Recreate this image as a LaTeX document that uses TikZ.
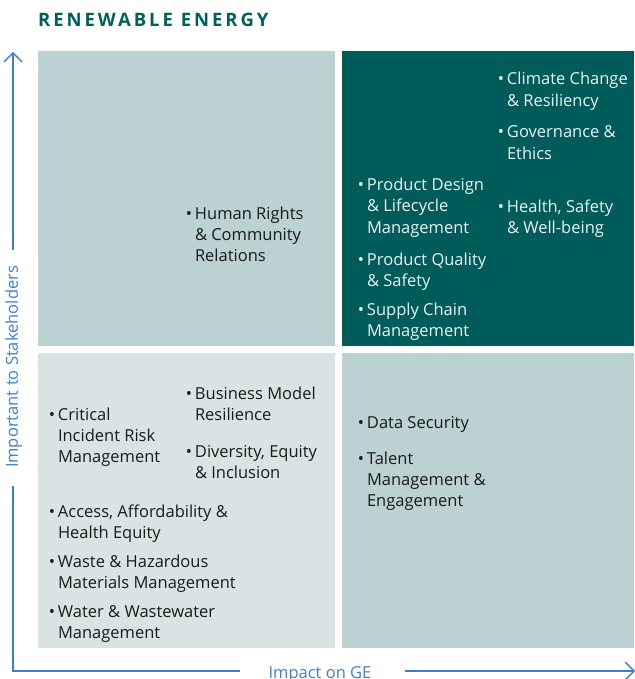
\documentclass[tikz,border=0pt]{standalone}
\usepackage{fontspec}
\setmainfont{Open Sans}
\usetikzlibrary{arrows.meta}
\definecolor{quadmid}{HTML}{BBD1D2}
\definecolor{quadpale}{HTML}{D8E4E4}
\definecolor{quaddark}{HTML}{005C5A}
\definecolor{axisblue}{HTML}{3F7FCF}
\definecolor{titleteal}{HTML}{00605C}
\definecolor{textdark}{HTML}{1A1A1A}
\definecolor{textlight}{HTML}{EAF2F2}
\newcommand{\Item}[1]{\llap{\textbullet\hspace{3pt}}\begin{tabular}[t]{@{}l@{}}#1\end{tabular}}
\tikzset{
  itemtext/.style={anchor=base west, inner sep=0, outer sep=0, text=textdark,
    font=\fontsize{16.5}{21.3}\selectfont},
  itemlight/.style={itemtext, text=textlight},
  axisline/.style={draw=axisblue, line width=1.4pt},
  axislabel/.style={text=axisblue, inner sep=0, font=\fontsize{16.5}{19}\selectfont},
  axistip/.style={-{Straight Barb[length=9pt,width=18pt,line width=1.4pt]}}
}
\begin{document}
\begin{tikzpicture}[x=1pt,y=-1pt]
\useasboundingbox (0,0) rectangle (634,679);
% quadrants
\fill[quadmid]  (38,51)  rectangle (335,346);
\fill[quaddark] (342,51) rectangle (634,346);
\fill[quadpale] (38,353) rectangle (335,648);
\fill[quadmid]  (342,353) rectangle (634,648);
% title
\node[anchor=base west, inner sep=0, text=titleteal,
  font=\fontsize{18.5}{22}\selectfont\bfseries\addfontfeatures{LetterSpace=16}] (title) at (38,26.7) {RENEWABLE ENERGY};
% top-left
\node[itemtext] (hr) at (195,219) {\Item{Human Rights\\ \& Community\\ Relations}};
% top-right
\node[itemlight] (cc) at (507,85) {\Item{Climate Change\\ \& Resiliency}};
\node[itemlight] (ge) at (507,138) {\Item{Governance \&\\ Ethics}};
\node[itemlight] (hs) at (507,212) {\Item{Health, Safety\\ \& Well-being}};
\node[itemlight] (pd) at (367,190.5) {\Item{Product Design\\ \& Lifecycle\\ Management}};
\node[itemlight] (pq) at (367,265) {\Item{Product Quality\\ \& Safety}};
\node[itemlight] (sc) at (367,315) {\Item{Supply Chain\\ Management}};
% bottom-left
\node[itemtext] (ci) at (58,420) {\Item{Critical\\ Incident Risk\\ Management}};
\node[itemtext] (aa) at (58,517) {\Item{Access, Affordability \&\\ Health Equity}};
\node[itemtext] (wh) at (58,567) {\Item{Waste \& Hazardous\\ Materials Management}};
\node[itemtext] (ww) at (58,617) {\Item{Water \& Wastewater\\ Management}};
\node[itemtext] (bm) at (195,399) {\Item{Business Model\\ Resilience}};
\node[itemtext] (de) at (195,457) {\Item{Diversity, Equity\\ \& Inclusion}};
% bottom-right
\node[itemtext] (ds) at (367,428) {\Item{Data Security}};
\node[itemtext] (tm) at (367,464) {\Item{Talent\\ Management \&\\ Engagement}};
% axes
\node[axislabel, rotate=90] (ylab) at (13.5,367) {Important to Stakeholders};
\node[axislabel, anchor=base] (xlab) at (320,678) {Impact on GE};
\coordinate (ytop) at (13,52);
\coordinate (yup) at (13,250);
\coordinate (ylow) at (13,486);
\coordinate (origin) at (13,671);
\coordinate (xleft) at (240,671);
\coordinate (xright) at (405,671);
\coordinate (xend) at (635,671);
\draw[axisline, axistip] (yup) -- (ytop);
\draw[axisline, line join=miter] (ylow) -- (origin) -- (xleft);
\draw[axisline, axistip] (xright) -- (xend);
\end{tikzpicture}
\end{document}
